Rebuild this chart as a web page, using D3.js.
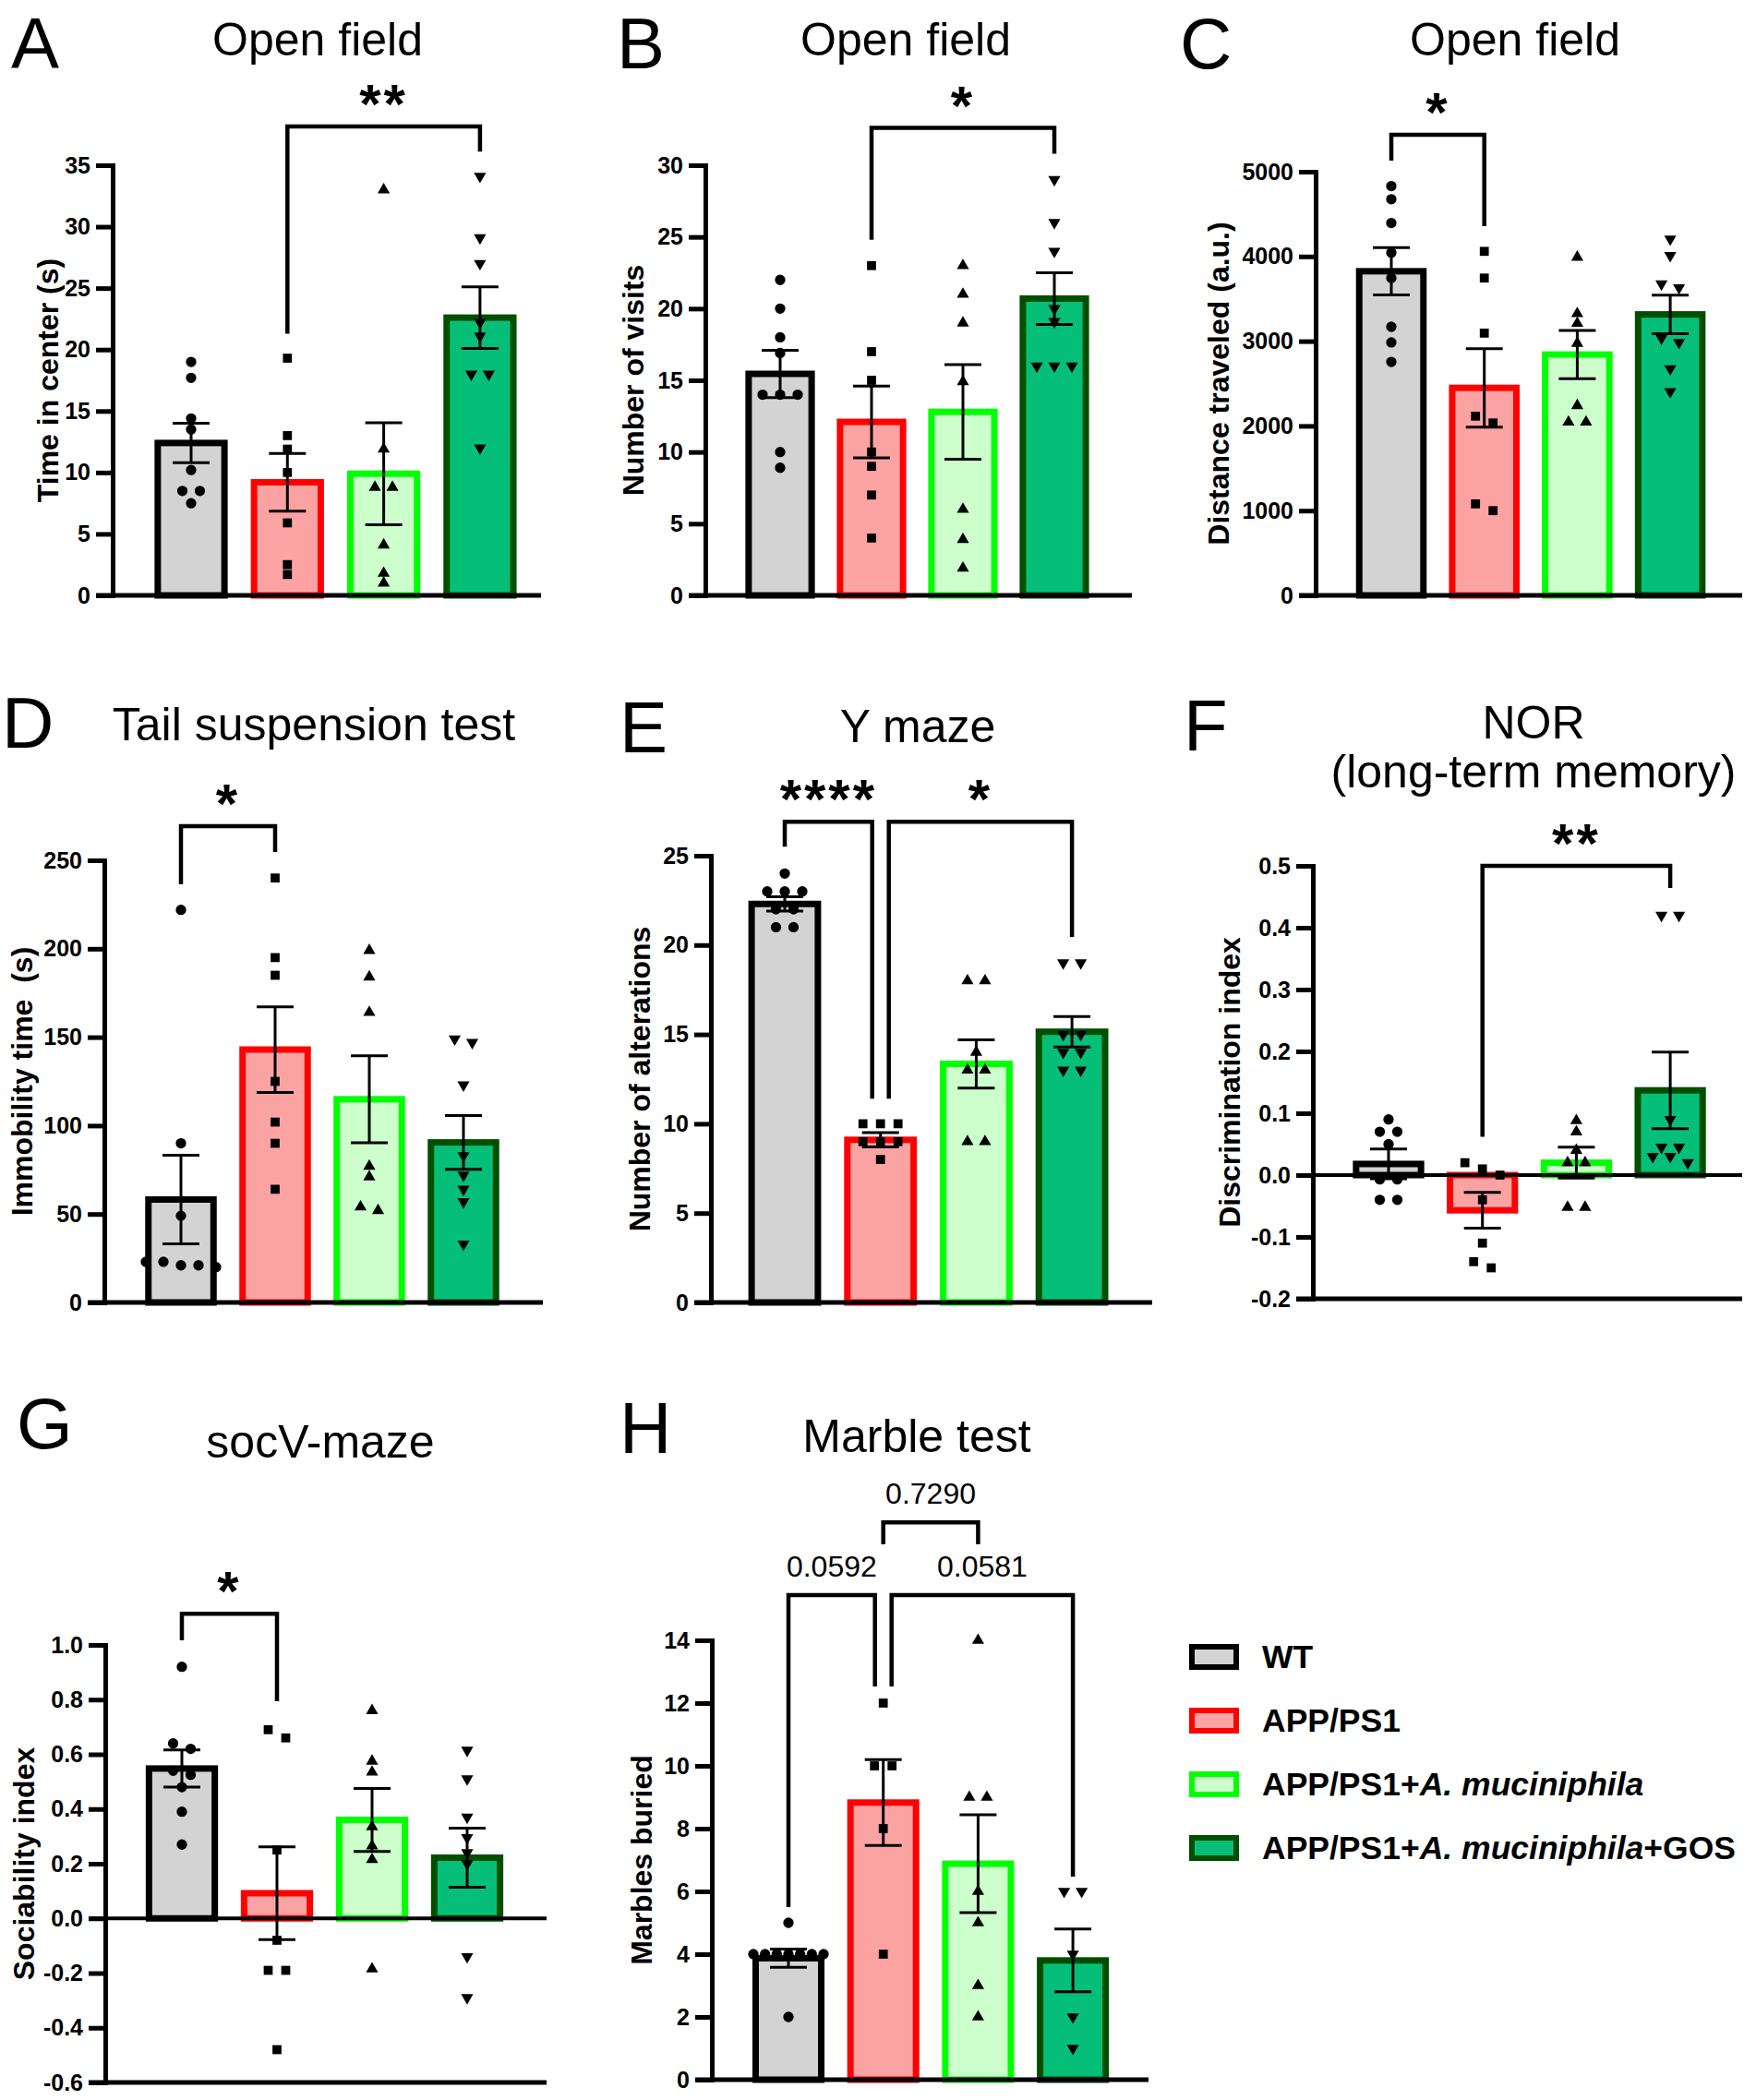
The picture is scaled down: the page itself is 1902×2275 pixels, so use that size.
<!DOCTYPE html>
<html>
<head>
<meta charset="utf-8">
<script src="https://cdn.jsdelivr.net/npm/d3@7"></script>
<style>
  body { margin: 0; background: #fff; }
  text { font-family: "Liberation Sans", Arial, sans-serif; fill: #000; }
</style>
</head>
<body>
<svg id="fig" width="1902" height="2275"></svg>
<script>
// groups (same order in every panel)
const groups = ["WT", "APP/PS1", "APP/PS1+A. muciniphila", "APP/PS1+A. muciniphila+GOS"];

// A - open field, time in center
const timeCenterMean = [12.4, 9.2, 9.9, 22.6];
const timeCenterSem = [1.6, 2.35, 4.15, 2.5];
const timeCenterPts = [
  [19.0, 17.7, 14.4, 13.5, 10.2, 8.5, 8.5, 7.5],
  [19.3, 13.0, 11.9, 10.0, 5.9, 2.5, 1.7],
  [33.0, 11.9, 8.8, 8.8, 4.1, 1.8, 1.0],
  [34.1, 29.1, 27.0, 22.2, 21.1, 18.0, 18.0, 12.0]
];

// B - open field, number of visits
const visitsMean = [15.45, 12.1, 12.8, 20.7];
const visitsSem = [1.65, 2.5, 3.3, 1.8];
const visitsPts = [
  [22, 20, 18, 16.9, 14, 14, 14, 10, 8.9],
  [23, 17, 15, 10, 9, 7, 4],
  [23, 21, 19, 14.9, 6, 3.9, 1.9],
  [29, 26, 24, 20, 19.1, 16, 16, 16]
];

// C - open field, distance traveled
const distanceMean = [3825, 2449, 2842, 3316];
const distanceSem = [280, 463, 284, 228];
const distancePts = [
  [4830, 4675, 4395, 4045, 3745, 3170, 2985, 2755],
  [4060, 3745, 3095, 2115, 2035, 1080, 1000],
  [3990, 3325, 3210, 2975, 2240, 2045, 2045],
  [4205, 4010, 3675, 3630, 3035, 2985, 2675, 2405]
];

// D - tail suspension, immobility time
const immobilityMean = [58.2, 143, 114.9, 90.5];
const immobilitySem = [25, 24.2, 24.6, 15.2];
const immobilityPts = [
  [222, 90, 49, 23, 23, 21, 21, 20],
  [240, 195, 185, 125, 102, 90, 64],
  [199, 184, 164, 77, 71, 54, 52],
  [149, 147, 123, 83, 72, 64, 57, 33]
];

// E - Y maze, alterations
const alterMean = [22.3, 9.1, 13.35, 15.15];
const alterSem = [0.4, 0.4, 1.35, 0.85];
const alterPts = [
  [24, 23, 23, 23, 22, 22, 21, 21],
  [10, 10, 10, 9, 9, 9, 8],
  [18, 18, 14, 13, 13, 9, 9],
  [19, 19, 15, 15, 14, 14, 13, 13]
];

// F - NOR discrimination index
const norMean = [0.018, -0.057, 0.02, 0.137];
const norSem = [0.024, 0.029, 0.025, 0.062];
const norPts = [
  [0.09, 0.07, 0.07, 0.05, -0.007, -0.007, -0.04, -0.04],
  [0.02, 0.01, 0.0, -0.04, -0.11, -0.14, -0.15],
  [0.088, 0.07, 0.04, 0.02, 0.02, -0.052, -0.052],
  [0.42, 0.42, 0.09, 0.045, 0.045, 0.03, 0.03, 0.02]
];

// G - socV-maze sociability index
const socMean = [0.548, 0.092, 0.36, 0.222];
const socSem = [0.068, 0.17, 0.115, 0.108];
const socPts = [
  [0.92, 0.64, 0.62, 0.54, 0.525, 0.48, 0.39, 0.27],
  [0.69, 0.66, 0.25, -0.08, -0.19, -0.19, -0.48],
  [0.76, 0.575, 0.535, 0.335, 0.265, 0.215, -0.185],
  [0.615, 0.51, 0.37, 0.295, 0.24, 0.2, -0.14, -0.29]
];

// H - marble test
const marbleMean = [3.87, 8.83, 6.88, 3.8];
const marbleSem = [0.29, 1.37, 1.56, 1.0];
const marblePts = [
  [5, 4, 4, 4, 4, 4, 4, 4, 2],
  [12, 10, 10, 8, 4],
  [14, 9, 9, 6, 5, 3, 2],
  [6, 6, 4, 2, 1]
];

// tick values
const ticksA = [0, 5, 10, 15, 20, 25, 30, 35];
const ticksB = [0, 5, 10, 15, 20, 25, 30];
const ticksC = [0, 1000, 2000, 3000, 4000, 5000];
const ticksD = [0, 50, 100, 150, 200, 250];
const ticksE = [0, 5, 10, 15, 20, 25];
const ticksF = [-0.2, -0.1, 0.0, 0.1, 0.2, 0.3, 0.4, 0.5];
const ticksG = [-0.6, -0.4, -0.2, 0.0, 0.2, 0.4, 0.6, 0.8, 1.0];
const ticksH = [0, 2, 4, 6, 8, 10, 12, 14];

// styling
const fills = ["#d3d3d3", "#fba3a3", "#ccffcc", "#05bf78"];
const strokes = ["#000000", "#ff0000", "#00ff00", "#004f00"];
const fmtInt = d => String(d);
const fmt1 = d => d.toFixed(1);

const panels = [
  { letter: "A", lx: 12, ly: 74, title: ["Open field"], tx: 344, ty: 60,
    ylabel: "Time in center (s)", ylx: 52,
    mean: timeCenterMean, sem: timeCenterSem, pts: timeCenterPts,
    domain: [0, 35], ticks: ticksA, fmt: fmtInt,
    ax: 122, yTop: 179, yBot: 645, c0: 207, step: 104.3, xEnd: 586,
    brackets: [{ a: 1, b: 3, top: 38.15, la: 21.3, lb: 36.1, text: "**" }] },
  { letter: "B", lx: 668, ly: 74, title: ["Open field"], tx: 981, ty: 60,
    ylabel: "Number of visits", ylx: 686,
    mean: visitsMean, sem: visitsSem, pts: visitsPts,
    domain: [0, 30], ticks: ticksB, fmt: fmtInt,
    ax: 764, yTop: 179, yBot: 645, c0: 845, step: 99, xEnd: 1226,
    brackets: [{ a: 1, b: 3, top: 32.6, la: 24.8, lb: 30.8, text: "*" }] },
  { letter: "C", lx: 1278, ly: 74, title: ["Open field"], tx: 1641, ty: 60,
    ylabel: "Distance traveled (a.u.)", ylx: 1320,
    mean: distanceMean, sem: distanceSem, pts: distancePts,
    domain: [0, 5000], ticks: ticksC, fmt: fmtInt,
    ax: 1425, yTop: 186, yBot: 645, c0: 1507, step: 100.7, xEnd: 1887,
    brackets: [{ a: 0, b: 1, top: 5436, la: 5131, lb: 4357, text: "*" }] },
  { letter: "D", lx: 2, ly: 810, title: ["Tail suspension test"], tx: 340, ty: 802,
    ylabel: "Immobility time  (s)", ylx: 24,
    mean: immobilityMean, sem: immobilitySem, pts: immobilityPts,
    domain: [0, 250], ticks: ticksD, fmt: fmtInt,
    ax: 113, yTop: 932, yBot: 1411, c0: 196, step: 102, xEnd: 588,
    brackets: [{ a: 0, b: 1, top: 269.3, la: 236.4, lb: 254.7, text: "*" }] },
  { letter: "E", lx: 671, ly: 815, title: ["Y maze"], tx: 994, ty: 804,
    ylabel: "Number of alterations", ylx: 693,
    mean: alterMean, sem: alterSem, pts: alterPts,
    domain: [0, 25], ticks: ticksE, fmt: fmtInt,
    ax: 770, yTop: 927, yBot: 1411, c0: 850, step: 103.7, xEnd: 1248,
    brackets: [
      { a: 0, b: 1, ob: -9, top: 26.9, la: 25.5, lb: 11.4, text: "****" },
      { a: 1, b: 3, oa: 9, top: 26.9, la: 11.4, lb: 20.45, text: "*" }] },
  { letter: "F", lx: 1282, ly: 813, title: ["NOR", "(long-term memory)"], tx: 1661, ty: 800,
    ylabel: "Discrimination index", ylx: 1332,
    mean: norMean, sem: norSem, pts: norPts,
    domain: [-0.2, 0.5], ticks: ticksF, fmt: fmt1, zeroLine: true,
    ax: 1422, yTop: 938, yBot: 1407, c0: 1504, step: 101.7, xEnd: 1887,
    brackets: [{ a: 1, b: 3, top: 0.5, la: 0.062, lb: 0.464, text: "**" }] },
  { letter: "G", lx: 18, ly: 1569, title: ["socV-maze"], tx: 347, ty: 1579,
    ylabel: "Sociability index", ylx: 26,
    mean: socMean, sem: socSem, pts: socPts,
    domain: [-0.6, 1.0], ticks: ticksG, fmt: fmt1, zeroLine: true,
    ax: 114, yTop: 1782, yBot: 2256, c0: 197, step: 103, xEnd: 592,
    brackets: [{ a: 0, b: 1, top: 1.114, la: 1.017, lb: 0.794, text: "*" }] },
  { letter: "H", lx: 671, ly: 1574, title: ["Marble test"], tx: 993, ty: 1573,
    ylabel: "Marbles buried", ylx: 695,
    mean: marbleMean, sem: marbleSem, pts: marblePts,
    domain: [0, 14], ticks: ticksH, fmt: fmtInt,
    ax: 771, yTop: 1777, yBot: 2253, c0: 854, step: 102.7, xEnd: 1244,
    brackets: [
      { a: 1, b: 2, top: 17.76, la: 17.06, lb: 17.06, text: "0.7290", num: true },
      { a: 0, b: 1, ob: -9, top: 15.44, la: 5.5, lb: 12.53, text: "0.0592", num: true },
      { a: 1, b: 3, oa: 9, top: 15.44, la: 12.53, lb: 6.47, text: "0.0581", num: true }] }
];

const svg = d3.select("#fig");
svg.append("rect").attr("width", 1902).attr("height", 2275).attr("fill", "#fff");

const markerTypes = [d3.symbolCircle, d3.symbolSquare, d3.symbolTriangle, d3.symbolTriangle];
const markerSizes = [100, 95, 75, 75];

// spread points that sit on the same level side by side
function spread(vals, y) {
  const sorted = vals.slice().sort((a, b) => b - a);
  const out = [];
  let cluster = [];
  const flush = () => {
    const k = cluster.length;
    const gap = k > 1 ? Math.min(19, 76 / (k - 1)) : 0;
    cluster.forEach((v, i) => out.push({ v: v, dx: (i - (k - 1) / 2) * gap }));
    cluster = [];
  };
  sorted.forEach(v => {
    if (cluster.length && Math.abs(y(v) - y(cluster[cluster.length - 1])) >= 10) flush();
    cluster.push(v);
  });
  flush();
  return out;
}

function drawPanel(p) {
  const g = svg.append("g");
  const y = d3.scaleLinear().domain(p.domain).range([p.yBot, p.yTop]);
  const x = d3.scaleBand().domain(groups)
    .range([p.c0 - p.step / 2, p.c0 + p.step * 3.5])
    .paddingInner(0.24).paddingOuter(0.12);
  const bw = x.bandwidth();
  const cx = i => x(groups[i]) + bw / 2;
  const sw = 7;

  // panel letter and title
  g.append("text").attr("x", p.lx).attr("y", p.ly)
    .attr("font-size", 78).text(p.letter);
  p.title.forEach((t, i) => {
    g.append("text").attr("x", p.tx).attr("y", p.ty + i * 53)
      .attr("text-anchor", "middle").attr("font-size", 50).text(t);
  });

  // bars
  g.selectAll(".bar").data(p.mean).enter().append("rect")
    .attr("x", (d, i) => x(groups[i]) + sw / 2)
    .attr("width", bw - sw)
    .attr("y", d => Math.min(y(d), y(0)))
    .attr("height", d => Math.abs(y(d) - y(0)))
    .attr("fill", (d, i) => fills[i])
    .attr("stroke", (d, i) => strokes[i])
    .attr("stroke-width", sw);

  // individual animals
  p.pts.forEach((vals, i) => {
    const sym = d3.symbol().type(markerTypes[i]).size(markerSizes[i]);
    g.selectAll(null).data(spread(vals, y)).enter().append("path")
      .attr("d", sym)
      .attr("transform", d => `translate(${cx(i) + d.dx},${y(d.v)})` + (i === 3 ? " rotate(180)" : ""))
      .attr("fill", "#000");
  });

  // mean +/- SEM
  p.mean.forEach((m, i) => {
    const lo = y(m - p.sem[i]), hi = y(m + p.sem[i]);
    const eg = g.append("g").attr("stroke", "#000").attr("stroke-width", 3);
    eg.append("line").attr("x1", cx(i)).attr("x2", cx(i)).attr("y1", lo).attr("y2", hi);
    [lo, hi].forEach(v => eg.append("line")
      .attr("x1", cx(i) - 20).attr("x2", cx(i) + 20).attr("y1", v).attr("y2", v));
  });

  // axes
  const yAxis = g.append("g").attr("transform", `translate(${p.ax},0)`)
    .call(d3.axisLeft(y).tickValues(p.ticks).tickFormat(p.fmt)
      .tickSize(18).tickSizeOuter(0).tickPadding(6));
  yAxis.select(".domain").attr("stroke-width", 5).attr("stroke-linecap", "square");
  yAxis.selectAll(".tick line").attr("stroke-width", 5);
  yAxis.selectAll(".tick text").attr("font-size", 25).attr("font-weight", "bold")
    .attr("font-family", '"Liberation Sans", Arial, sans-serif').attr("fill", "#000");

  g.append("line").attr("x1", p.ax - 18).attr("x2", p.xEnd)
    .attr("y1", y(p.domain[0])).attr("y2", y(p.domain[0]))
    .attr("stroke", "#000").attr("stroke-width", 5);
  if (p.zeroLine) {
    g.append("line").attr("x1", p.ax - 18).attr("x2", p.xEnd)
      .attr("y1", y(0)).attr("y2", y(0))
      .attr("stroke", "#000").attr("stroke-width", 4);
  }

  // y label
  const ymid = (p.yTop + p.yBot) / 2;
  g.append("text")
    .attr("transform", `translate(${p.ylx},${ymid}) rotate(-90)`)
    .attr("dy", "0.35em").attr("text-anchor", "middle")
    .attr("font-size", 32).attr("font-weight", "bold")
    .attr("xml:space", "preserve").style("white-space", "pre")
    .text(p.ylabel);

  // significance brackets
  p.brackets.forEach(b => {
    const xa = cx(b.a) + (b.oa || 0), xb = cx(b.b) + (b.ob || 0);
    g.append("path")
      .attr("d", `M${xa},${y(b.la)}V${y(b.top)}H${xb}V${y(b.lb)}`)
      .attr("fill", "none").attr("stroke", "#000").attr("stroke-width", 4.5);
    const t = g.append("text").attr("x", (xa + xb) / 2).attr("text-anchor", "middle").text(b.text);
    if (b.num) {
      t.attr("y", y(b.top) - 20).attr("font-size", 32);
    } else {
      t.attr("y", y(b.top) - 4).attr("font-size", 60).attr("font-weight", "bold")
        .attr("letter-spacing", 3);
    }
  });
}

panels.forEach(drawPanel);

// legend
const legendX = 1291, legendTop = 1795, legendStep = 69;
const lg = svg.append("g");
groups.forEach((name, i) => {
  const yc = legendTop + i * legendStep;
  lg.append("rect").attr("x", legendX).attr("y", yc - 11).attr("width", 48).attr("height", 22)
    .attr("fill", fills[i]).attr("stroke", strokes[i]).attr("stroke-width", 6);
  const t = lg.append("text").attr("x", 1367).attr("y", yc + 12)
    .attr("font-size", 35.5).attr("font-weight", "bold");
  const parts = name.split("A. muciniphila");
  t.append("tspan").text(parts[0]);
  if (parts.length > 1) {
    t.append("tspan").attr("font-style", "italic").text("A. muciniphila");
    t.append("tspan").text(parts[1]);
  }
});
</script>
</body>
</html>
